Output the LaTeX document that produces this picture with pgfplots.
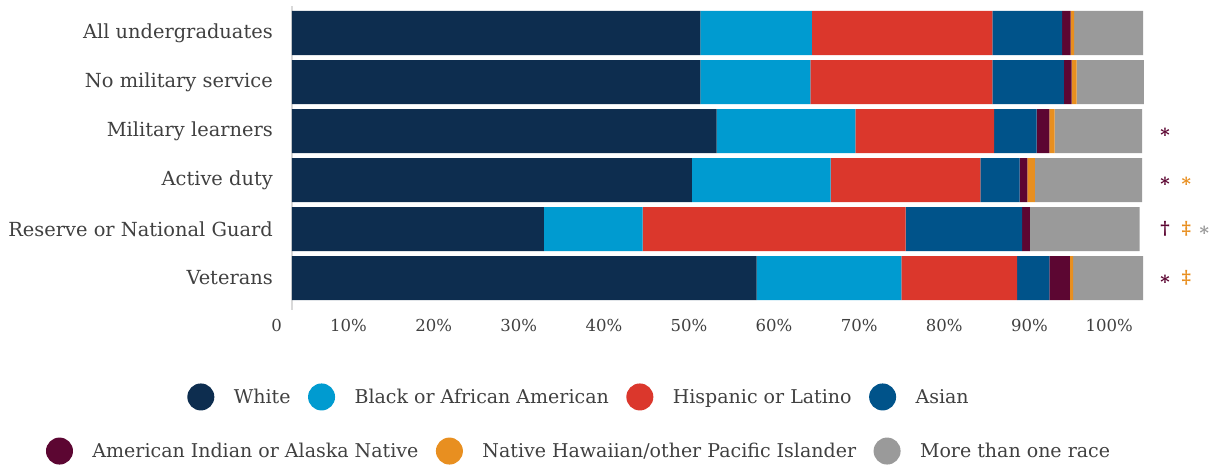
\documentclass[border=0pt]{standalone}
\usepackage{pgfplots}
\pgfplotsset{compat=1.18}
\usepackage{fontspec}
\setmainfont{DejaVu Serif}
\definecolor{cWhite}{HTML}{0D2D4F}
\definecolor{cBlack}{HTML}{009BD0}
\definecolor{cHisp}{HTML}{DB372C}
\definecolor{cAsian}{HTML}{00538A}
\definecolor{cAIAN}{HTML}{5C0632}
\definecolor{cNHPI}{HTML}{E88F20}
\definecolor{cMore}{HTML}{9A9A9A}
\definecolor{txtgray}{HTML}{404040}
\definecolor{axisgray}{HTML}{D9D9D9}
\newcommand{\labfont}{\fontsize{19.4}{23}\selectfont}
\newcommand{\legfont}{\fontsize{19.0}{23}\selectfont}
\newcommand{\symfont}{\fontsize{18}{21}\selectfont\bfseries}
\begin{document}
\begin{tikzpicture}[x=1pt,y=1pt]
\useasboundingbox (0,0) rectangle (1210,466);
\begin{axis}[
  at={(292pt,156pt)}, anchor=south west,
  scale only axis, width=851pt, height=304pt,
  xbar stacked, bar width=44pt,
  xmin=0, xmax=100, ymin=-0.551, ymax=5.653, y dir=reverse,
  enlargelimits=false, clip=false,
  ytick={0,1,2,3,4,5},
  yticklabels={All undergraduates, No military service, Military learners, Active duty, Reserve or National Guard, Veterans},
  xtick={0,10,20,30,40,50,60,70,80,90,100},
  xticklabels={0,10\%,20\%,30\%,40\%,50\%,60\%,70\%,80\%,90\%,100\%},
  major tick length=0pt,
  axis lines*=left,
  axis line style={-},
  x axis line style={draw=none},
  y axis line style={draw=axisgray, line width=2pt},
  yticklabel style={anchor=east, inner sep=0pt, xshift=-19pt, font=\labfont, text=txtgray},
  xticklabel style={anchor=north east, inner sep=0pt, xshift=-10pt, yshift=-9pt, font=\fontsize{16.5}{19}\selectfont, text=txtgray},
  legend image code/.code={\fill[#1,draw=none] (13.5pt,0pt) circle (13.5pt); \path[draw=none,fill=none] (0pt,0pt) -- (44.5pt,0pt);},
  legend columns=4,
  legend style={draw=none, fill=none, inner sep=0pt, column sep=0pt,
    /tikz/every even column/.append style={column sep=15.5pt},
    font=\legfont, text=txtgray, at={(0.3373,-0.286)}, anchor=center},
]
\addplot[fill=cWhite, draw=none] coordinates {(48.0,0) (48.0,1) (49.9,2) (47.0,3) (29.6,4) (54.6,5)};
\addlegendentry{White}
\addplot[fill=cBlack, draw=none] coordinates {(13.1,0) (12.9,1) (16.3,2) (16.3,3) (11.6,4) (17.0,5)};
\addlegendentry{Black or African American}
\addplot[fill=cHisp, draw=none] coordinates {(21.2,0) (21.4,1) (16.3,2) (17.6,3) (30.9,4) (13.6,5)};
\addlegendentry{Hispanic or Latino}
\addplot[fill=cAsian, draw=none] coordinates {(8.2,0) (8.4,1) (5.0,2) (4.6,3) (13.7,4) (3.8,5)};
\addlegendentry{Asian}
\addplot[fill=cAIAN, draw=none, forget plot] coordinates {(1.0,0) (0.9,1) (1.5,2) (0.9,3) (0.9,4) (2.4,5)};
\addplot[fill=cNHPI, draw=none, forget plot] coordinates {(0.4,0) (0.6,1) (0.6,2) (0.9,3) (0.0,4) (0.4,5)};
\addplot[fill=cMore, draw=none, forget plot] coordinates {(8.1,0) (7.9,1) (10.3,2) (12.6,3) (12.9,4) (8.2,5)};
\node[text=cAIAN, font=\symfont, anchor=base, yshift=-10.5pt] at (axis cs:102.6,2) {*};
\node[text=cAIAN, font=\symfont, anchor=base, yshift=-10.5pt] at (axis cs:102.6,3) {*};
\node[text=cNHPI, font=\symfont, anchor=base, yshift=-10.5pt] at (axis cs:105.1,3) {*};
\node[text=cAIAN, font=\symfont] at (axis cs:102.6,4) {†};
\node[text=cNHPI, font=\symfont] at (axis cs:105.1,4) {‡};
\node[text=cMore, font=\symfont, anchor=base, yshift=-10.5pt] at (axis cs:107.2,4) {*};
\node[text=cAIAN, font=\symfont, anchor=base, yshift=-10.5pt] at (axis cs:102.6,5) {*};
\node[text=cNHPI, font=\symfont] at (axis cs:105.1,5) {‡};
\end{axis}
\begin{axis}[
  at={(292pt,156pt)}, anchor=south west,
  scale only axis, width=851pt, height=304pt,
  hide axis, xmin=0, xmax=1, ymin=0, ymax=1,
  legend image code/.code={\fill[#1,draw=none] (13.5pt,0pt) circle (13.5pt); \path[draw=none,fill=none] (0pt,0pt) -- (44.5pt,0pt);},
  legend columns=3,
  legend style={draw=none, fill=none, inner sep=0pt, column sep=0pt,
    /tikz/every even column/.append style={column sep=15.5pt},
    font=\legfont, text=txtgray, at={(0.3373,-0.464)}, anchor=center},
]
\addlegendimage{fill=cAIAN}
\addlegendentry{American Indian or Alaska Native}
\addlegendimage{fill=cNHPI}
\addlegendentry{Native Hawaiian/other Pacific Islander}
\addlegendimage{fill=cMore}
\addlegendentry{More than one race}
\end{axis}
\end{tikzpicture}
\end{document}
